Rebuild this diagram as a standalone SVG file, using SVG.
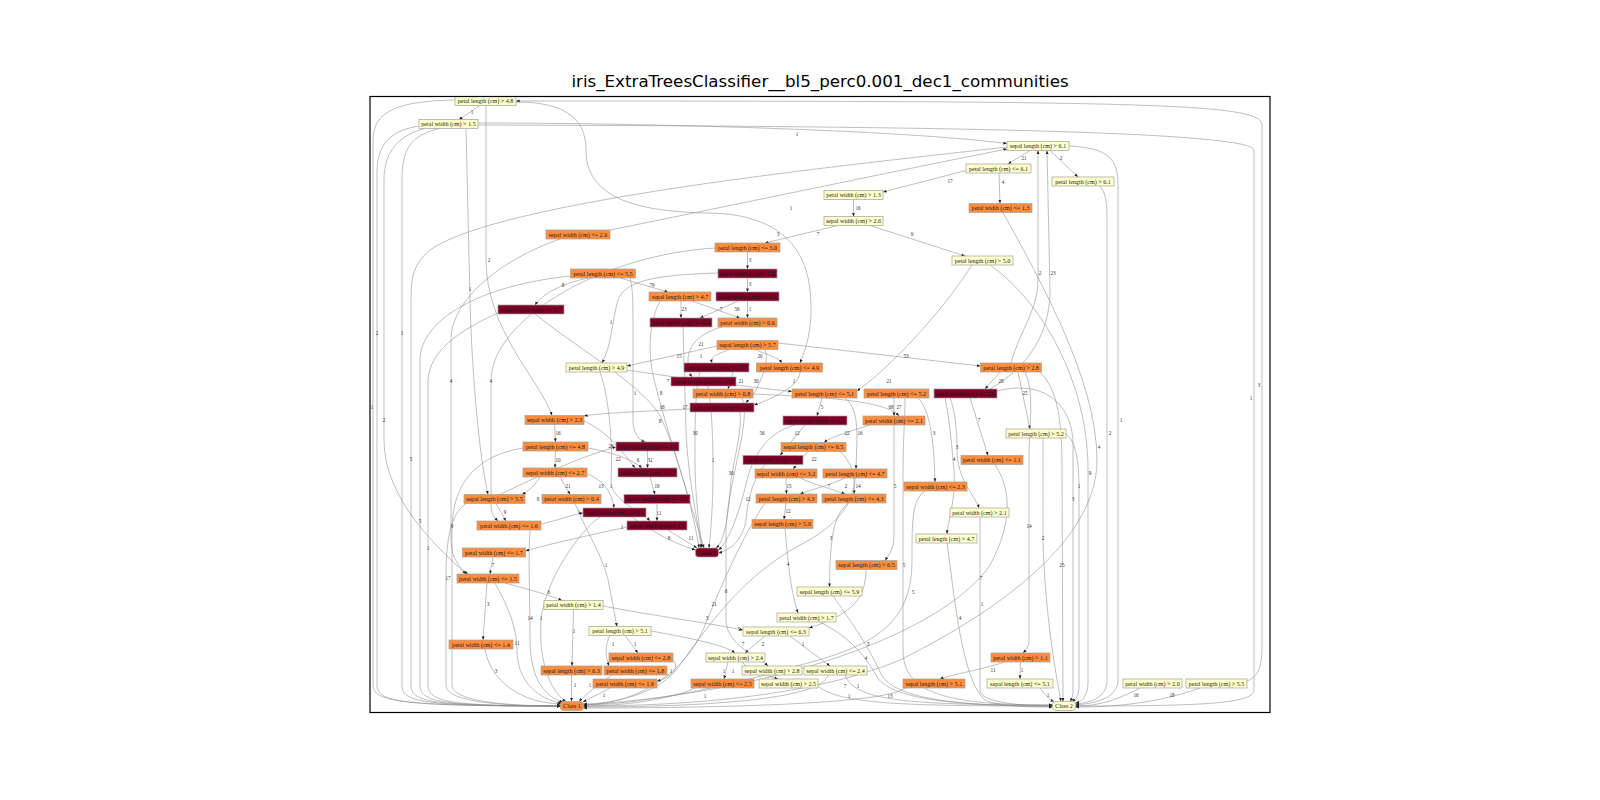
<svg xmlns="http://www.w3.org/2000/svg" width="1600" height="800" viewBox="0 0 1600 800">
<defs>
<marker id="a" viewBox="0 0 10 10" refX="10" refY="5" markerWidth="3.6" markerHeight="3.6" orient="auto" markerUnits="userSpaceOnUse"><path d="M0,1 L10,5 L0,9 z" fill="#222"/></marker>
<style>
.y{fill:#ffffcc}.o{fill:#fd8d3c}.d{fill:#800026}
.n rect{stroke:#a0a0a0;stroke-width:0.7}
.n text{font-family:"Liberation Serif",serif;font-size:6.1px;text-anchor:middle;fill:#1a1a1a}
#edges path{fill:none;stroke:#8a8a8a;stroke-width:0.55;marker-end:url(#a)}
#edges text{font-family:"Liberation Serif",serif;font-size:5.2px;text-anchor:middle;fill:#333}
</style>
</defs>
<rect width="1600" height="800" fill="#fff"/>
<text x="820" y="87" font-family="DejaVu Sans, sans-serif" font-size="16.7" text-anchor="middle" fill="#000">iris_ExtraTreesClassifier__bl5_perc0.001_dec1_communities</text>
<g id="edges">
<path d="M480,105.5 L459,119.5"/>
<path d="M478,123 C650,123 900,130 1007,143.5"/>
<path d="M1247,681 C1262,675 1262,660 1262,640 L1262,125 C1262,103 1150,101 516,101"/>
<path d="M478,125 C800,126 1250,128 1254,150 L1254,690 C1254,704 1200,706 1075.5,706"/>
<path d="M966,170.5 L883,192"/>
<path d="M1030,150.5 L1008,164"/>
<path d="M1050,150.5 L1078,177"/>
<path d="M999,173 L1000,203.5"/>
<path d="M1069,146 C1110,148 1118,160 1118,185 L1118,680 C1118,700 1090,704 1075.5,705"/>
<path d="M1100,186 C1107,195 1107,205 1107,230 L1107,680 C1107,698 1090,703 1075.5,704"/>
<path d="M1003,212.5 C1040,280 1097,380 1097,460 C1097,540 1000,610 900,660 C800,702 650,706 583.5,706"/>
<path d="M853.5,199.5 L853.5,216.5"/>
<path d="M610,230 C700,212 900,170 1007,149"/>
<path d="M838,225.5 L765,243"/>
<path d="M870,225.5 L965,256"/>
<path d="M747.5,252 L747.5,269"/>
<path d="M747.5,278 L747.5,292"/>
<path d="M747.5,301 L747.5,318"/>
<path d="M738,301 L700,318"/>
<path d="M692,301 L740,318"/>
<path d="M681,301 L681,318"/>
<path d="M620,278 L668,292"/>
<path d="M588,278 C570,282 545,290 535,305"/>
<path d="M718,273 C650,275 625,282 618,300 C612,320 612,345 602,363"/>
<path d="M717,346 L627,366"/>
<path d="M730,349.5 C720,353 710,356 712,363"/>
<path d="M755,349.5 C765,354 778,357 782,363"/>
<path d="M778,343 L980.5,366"/>
<path d="M722,327 C700,333 688,345 688,360 C688,370 690,374 692,377"/>
<path d="M627,370 C680,378 740,386 792,391.5"/>
<path d="M733,372 L728,389"/>
<path d="M765,349.5 C770,365 760,380 756,390 C752,398 748,400 746,403"/>
<path d="M800,372 C800,385 775,398 754,405"/>
<path d="M1000,372 L985,389"/>
<path d="M1018,372 L1030,429"/>
<path d="M972,265 C950,300 900,360 857,391"/>
<path d="M990,265 C1040,300 1088,380 1088,470 L1088,682 C1088,698 1080,702 1075.5,703"/>
<path d="M822,398 L817,416"/>
<path d="M894,398 L894,416"/>
<path d="M753,394 C820,397 885,400 899,416"/>
<path d="M970,398 L988,455.5"/>
<path d="M918,398 C930,410 934,440 935,482"/>
<path d="M950,398 C955,410 957,430 957,450 C957,480 975,495 979,508"/>
<path d="M945,398 C950,420 952,450 954,470 C956,500 948,520 947,534"/>
<path d="M1043,438 C1043,480 1043,510 1043,540 C1045,620 1058,685 1061,701.5"/>
<path d="M1025,372 C1035,395 1029,420 1029,460 L1029,640 C1029,648 1025,651 1023,653"/>
<path d="M1040,372 C1058,390 1062,420 1062,470 L1063,701.5"/>
<path d="M997,391 C1040,380 1070,400 1073,440 L1073,690 C1073,698 1071,700 1070,701.5"/>
<path d="M1066,434 C1075,440 1079,460 1079,486 L1079,686 C1079,698 1074,700 1072,701.5"/>
<path d="M1011,363 C1020,330 1038,310 1038,280 L1038,150.5"/>
<path d="M990,389 C1040,360 1050,320 1050,290 L1047,150.5"/>
<path d="M995,464.5 C1012,490 1012,525 990,565 C950,625 800,690 583.5,705"/>
<path d="M980,517 L980,690 C980,704 1030,706 1052.5,706"/>
<path d="M947,543 C955,600 962,680 985,700 C1000,707 1030,707 1052.5,707"/>
<path d="M925,491 C912,500 912,520 912,560 C912,620 880,645 800,665 C700,695 620,705 583.5,705"/>
<path d="M894,425 L894,535 C894,550 888,556 885,560.5"/>
<path d="M905,398 C905,420 903,440 903,475 L903,650 C903,695 950,705 1052.5,705"/>
<path d="M845,398 C855,405 857,420 857,440 L856,469"/>
<path d="M805,425 L780,455.5"/>
<path d="M870,425 C855,430 832,436 824,442.5"/>
<path d="M808,451.5 L793,469"/>
<path d="M786,478 L786.5,494"/>
<path d="M800,478 C815,485 835,490 845,494"/>
<path d="M845,478 C830,485 810,490 800,494"/>
<path d="M855,478 L854,494"/>
<path d="M786,503 L784,519.5"/>
<path d="M795,425 C770,432 755,450 747,480 C740,510 730,540 718.5,550"/>
<path d="M765,464.5 C752,480 748,500 746,520 C743,540 730,550 718.5,553"/>
<path d="M848,503 C835,515 830,530 829.5,587"/>
<path d="M785,528.5 C788,560 790,590 798,613"/>
<path d="M833,596 C850,620 868,645 880,672 C892,700 960,706 1052.5,706"/>
<path d="M820,622 C845,635 862,650 876,675 C888,700 960,706 1052.5,706"/>
<path d="M866,569.5 C866,600 850,615 809,628"/>
<path d="M840,451.5 C870,480 850,520 800,545 C745,575 712,620 680,665 C660,695 610,704 583.5,704"/>
<path d="M765,503 C740,540 720,590 707,620 C690,670 640,704 583.5,705"/>
<path d="M603,606 C650,615 720,625 743,630"/>
<path d="M651,631 C690,638 725,645 735,653"/>
<path d="M765,636 L745,653"/>
<path d="M790,636 L830,666"/>
<path d="M728,662 L724,679"/>
<path d="M742,662 C750,672 770,676 778,679"/>
<path d="M742,398 C752,420 728,480 726,530 L726,620 C726,645 760,658 768,666"/>
<path d="M673,660 C680,668 672,677 657,681"/>
<path d="M695,688 C670,700 620,706 583.5,706"/>
<path d="M610,688 L583,702"/>
<path d="M845,675 C855,700 900,705 1052.5,705"/>
<path d="M828,675 C822,700 700,707 583.5,707"/>
<path d="M818,686 C840,704 900,706 1052.5,706"/>
<path d="M905,688 C885,705 700,708 583.5,708"/>
<path d="M1005,662 C980,670 950,675 940,679"/>
<path d="M1020.5,662 L1020,679"/>
<path d="M1040,688 C1045,695 1050,700 1054,701.5"/>
<path d="M1140,688 C1110,704 1090,706 1075.5,706"/>
<path d="M1200,688 C1150,706 1100,707 1075.5,707"/>
<path d="M625,635.5 L638,653"/>
<path d="M610,635.5 C605,645 605,655 609,666"/>
<path d="M573.5,609.5 L572,666"/>
<path d="M571.5,675 L571.5,701.5"/>
<path d="M612,675 C598,685 585,695 579,701.5"/>
<path d="M575,503.5 C590,540 606,560 610,590 L617,626.5"/>
<path d="M505,583 C530,590 550,595 562,600.5"/>
<path d="M487,583 L483,640"/>
<path d="M495,583 C510,610 517,630 517,650 C517,690 550,702 562,703"/>
<path d="M485,649 C490,680 520,703 561,704"/>
<path d="M493,557 L490,574"/>
<path d="M530,530 C528,560 530,600 530,640 C530,690 555,700 563,702"/>
<path d="M600,517 C580,530 545,580 541,620 C538,670 555,695 566,701.5"/>
<path d="M466,503.5 C450,515 446,540 446,580 L446,685 C446,702 500,706 560.5,706"/>
<path d="M523,448 C480,455 452,480 452,530 L452,685 C452,702 510,706 560.5,706"/>
<path d="M496,503.5 L506,521"/>
<path d="M540,477 C535,485 530,490 522,494.5"/>
<path d="M560,477 L570,494.5"/>
<path d="M587,474 C600,478 612,490 614,508"/>
<path d="M600,372 C610,400 613,450 611,480 C610,500 640,510 650,521"/>
<path d="M541,524 C560,520 570,515 583,513"/>
<path d="M627,527 C590,535 545,545 525.5,551"/>
<path d="M668,530 L697,548"/>
<path d="M632,517 C650,530 670,542 695.5,550"/>
<path d="M650,477 L655,494.5"/>
<path d="M657,503.5 L657,521"/>
<path d="M647.5,451 L647.5,468"/>
<path d="M588,448 C610,452 630,458 642,468"/>
<path d="M584,421 C605,430 622,450 635,468"/>
<path d="M500,494.5 C540,475 585,455 616,447"/>
<path d="M554.5,424.5 L555.5,442"/>
<path d="M555.5,451 L555,468"/>
<path d="M690,409 C650,411 600,413 584,416"/>
<path d="M740,412 C742,430 735,455 731,480 C728,520 724,542 716,548"/>
<path d="M700,372 C695,390 695,420 695,460 C695,500 700,530 702,548"/>
<path d="M708,386 C712,410 713,440 713,470 C713,510 710,540 709,548"/>
<path d="M683,327 C684,360 685,400 686,430 C688,480 698,520 701,548"/>
<path d="M535,314 C580,350 650,390 662,420 C680,460 695,520 699,548"/>
<path d="M660,301 C650,320 648,345 652,370 C660,410 690,500 704,548"/>
<path d="M630,278 C633,290 633,300 633,330 L633,420 C633,435 640,440 645,442"/>
<path d="M516,102 C560,102 586,115 586,150 C586,195 630,212 710,213 C770,214 805,240 810,290 C814,330 805,350 800,363"/>
<path d="M486,105.5 L486,260 C486,330 540,380 552,415.5"/>
<path d="M455,100 C400,101 373,110 373,140 L373,685 C373,702 400,706 560.5,706"/>
<path d="M419,126 C395,130 378,140 377,170 L377,685 C377,702 400,706 560.5,706"/>
<path d="M425,128.5 C400,135 384,150 384,180 L384,440 C384,500 440,550 466,574"/>
<path d="M440,128.5 C410,135 402,150 402,180 L402,685 C402,702 420,706 560.5,706"/>
<path d="M1007,147 C850,165 500,200 430,250 C412,265 411,280 411,300 L411,685 C411,702 430,706 560.5,706"/>
<path d="M571,276 C480,285 420,320 420,360 L420,685 C420,702 440,706 560.5,706"/>
<path d="M500,312 C460,330 430,350 428,380 L428,685 C428,702 450,706 560.5,706"/>
<path d="M560,239 C500,260 451,300 451,340 L451,540 C451,560 462,570 468,574"/>
<path d="M715,248 C600,255 491,320 491,381 L491,505 C491,515 495,518 498,521"/>
<path d="M466,128.5 L470,300 C472,380 480,460 488,494.5"/>
<text x="472" y="113.8">1</text><text x="797" y="135.8">1</text><text x="1259" y="386.8">3</text><text x="1251" y="399.8">1</text>
<text x="950" y="182.8">17</text><text x="1024" y="159.8">21</text><text x="1061" y="159.8">2</text><text x="1003" y="183.8">4</text>
<text x="1121" y="421.8">1</text><text x="1110" y="434.8">2</text><text x="1099" y="448.8">4</text><text x="858" y="209.8">16</text>
<text x="791" y="209.8">1</text><text x="818" y="235.8">7</text><text x="912" y="235.8">9</text><text x="750" y="261.8">3</text>
<text x="750" y="285.8">3</text><text x="750" y="310.8">1</text><text x="721" y="310.8">7</text><text x="737" y="310.8">56</text>
<text x="684" y="310.8">23</text><text x="652" y="286.8">79</text><text x="563" y="286.8">8</text><text x="611" y="323.8">1</text>
<text x="679" y="357.8">15</text><text x="701" y="357.8">1</text><text x="760" y="357.8">20</text><text x="906" y="357.8">53</text>
<text x="701" y="345.8">21</text><text x="668" y="382.8">7</text><text x="741" y="382.8">21</text><text x="756" y="382.8">30</text>
<text x="794" y="382.8">1</text><text x="1001" y="382.8">28</text><text x="1025" y="394.8">25</text><text x="889" y="382.8">21</text>
<text x="1090" y="474.8">9</text><text x="822" y="408.8">5</text><text x="891" y="408.8">68</text><text x="899" y="408.8">27</text>
<text x="979" y="421.8">7</text><text x="934" y="434.8">3</text><text x="957" y="448.8">3</text><text x="954" y="460.8">4</text>
<text x="1043" y="539.8">2</text><text x="1029" y="527.8">14</text><text x="1062" y="566.8">25</text><text x="1073" y="500.8">3</text>
<text x="1079" y="487.8">1</text><text x="1040" y="274.8">2</text><text x="1053" y="274.8">23</text><text x="981" y="579.8">7</text>
<text x="982" y="605.8">1</text><text x="960" y="619.8">4</text><text x="913" y="593.8">5</text><text x="895" y="487.8">5</text>
<text x="904" y="566.8">5</text><text x="860" y="434.8">16</text><text x="797" y="434.8">12</text><text x="847" y="434.8">22</text>
<text x="814" y="460.8">22</text><text x="789" y="487.8">15</text><text x="829" y="487.8">7</text><text x="846" y="487.8">2</text>
<text x="858" y="487.8">14</text><text x="788" y="512.8">12</text><text x="762" y="434.8">56</text><text x="748" y="500.8">12</text>
<text x="831" y="539.8">3</text><text x="788" y="565.8">4</text><text x="868" y="645.8">3</text><text x="866" y="659.8">4</text>
<text x="714" y="605.8">21</text><text x="707" y="619.8">3</text><text x="739" y="630.8">5</text><text x="743" y="645.8">7</text>
<text x="763" y="645.8">2</text><text x="803" y="645.8">1</text><text x="724" y="672.8">1</text><text x="733" y="672.8">1</text>
<text x="726" y="592.8">6</text><text x="671" y="672.8">1</text><text x="705" y="697.8">1</text><text x="604" y="696.8">1</text>
<text x="858" y="687.8">1</text><text x="845" y="687.8">7</text><text x="849" y="697.8">1</text><text x="890" y="697.8">13</text>
<text x="993" y="671.8">11</text><text x="1022" y="671.8">1</text><text x="1048" y="696.8">1</text><text x="1136" y="696.8">16</text>
<text x="1172" y="696.8">18</text><text x="635" y="645.8">1</text><text x="613" y="645.8">1</text><text x="574" y="632.8">1</text>
<text x="575" y="686.8">1</text><text x="590" y="686.8">1</text><text x="606" y="566.8">1</text><text x="549" y="593.8">6</text>
<text x="488" y="605.8">3</text><text x="517" y="644.8">11</text><text x="496" y="672.8">3</text><text x="493" y="566.8">7</text>
<text x="530" y="619.8">14</text><text x="541" y="619.8">1</text><text x="448" y="579.8">17</text><text x="452" y="527.8">9</text>
<text x="505" y="513.8">9</text><text x="538" y="500.8">8</text><text x="568" y="487.8">21</text><text x="601" y="487.8">13</text>
<text x="611" y="487.8">1</text><text x="579" y="513.8">1</text><text x="622" y="528.8">1</text><text x="691" y="539.8">11</text>
<text x="669" y="539.8">8</text><text x="657" y="487.8">19</text><text x="659" y="514.8">11</text><text x="650" y="461.8">32</text>
<text x="638" y="461.8">6</text><text x="618" y="460.8">22</text><text x="611" y="447.8">28</text><text x="558" y="434.8">16</text>
<text x="558" y="461.8">10</text><text x="660" y="422.8">8</text><text x="731" y="474.8">30</text><text x="695" y="434.8">30</text>
<text x="713" y="461.8">1</text><text x="685" y="408.8">17</text><text x="662" y="408.8">18</text><text x="661" y="394.8">8</text>
<text x="635" y="394.8">1</text><text x="778" y="235.8">3</text><text x="489" y="261.8">2</text><text x="372" y="408.8">1</text>
<text x="377" y="334.8">2</text><text x="384" y="421.8">2</text><text x="402" y="334.8">1</text><text x="411" y="460.8">5</text>
<text x="420" y="522.8">5</text><text x="428" y="549.8">1</text><text x="451" y="382.8">4</text><text x="491" y="382.8">4</text>
<text x="470" y="290.8">1</text>
</g>
<g id="n1" class="n"><rect class="y" x="455" y="96.5" width="61" height="9"/><text x="485.5" y="103.1">petal length (cm) &gt; 4.8</text></g>
<g id="n2" class="n"><rect class="y" x="419" y="119.5" width="59" height="9"/><text x="448.5" y="126.1">petal width (cm) &gt; 1.5</text></g>
<g id="n3" class="n"><rect class="y" x="1007" y="141.5" width="62" height="9"/><text x="1038" y="148.1">sepal length (cm) &gt; 6.1</text></g>
<g id="n4" class="n"><rect class="y" x="966" y="164" width="65" height="9"/><text x="998.5" y="170.6">petal length (cm) &lt;= 6.1</text></g>
<g id="n5" class="n"><rect class="y" x="1052" y="177" width="62" height="9"/><text x="1083" y="183.6">petal length (cm) &gt; 6.1</text></g>
<g id="n6" class="n"><rect class="y" x="824" y="190.5" width="59" height="9"/><text x="853.5" y="197.1">petal width (cm) &gt; 1.3</text></g>
<g id="n7" class="n"><rect class="o" x="969" y="203.5" width="63" height="9"/><text x="1000.5" y="210.1">petal width (cm) &lt;= 1.3</text></g>
<g id="n8" class="n"><rect class="y" x="824" y="216.5" width="59" height="9"/><text x="853.5" y="223.1">sepal width (cm) &gt; 2.6</text></g>
<g id="n9" class="n"><rect class="o" x="546" y="230" width="64" height="9"/><text x="578" y="236.6">sepal width (cm) &lt;= 2.6</text></g>
<g id="n10" class="n"><rect class="o" x="715" y="243" width="65" height="9"/><text x="747.5" y="249.6">petal length (cm) &lt;= 5.0</text></g>
<g id="n11" class="n"><rect class="y" x="952" y="256" width="61" height="9"/><text x="982.5" y="262.6">petal length (cm) &gt; 5.0</text></g>
<g id="n12" class="n"><rect class="d" x="718" y="269" width="59" height="9"/><text x="747.5" y="275.6">petal width (cm) &gt; 1.6</text></g>
<g id="n13" class="n"><rect class="o" x="570.5" y="269" width="65" height="9"/><text x="603" y="275.6">petal length (cm) &lt;= 5.5</text></g>
<g id="n14" class="n"><rect class="o" x="649" y="292" width="62" height="9"/><text x="680" y="298.6">sepal length (cm) &gt; 4.7</text></g>
<g id="n15" class="n"><rect class="d" x="716" y="292" width="63" height="9"/><text x="747.5" y="298.6">sepal width (cm) &lt;= 3.1</text></g>
<g id="n16" class="n"><rect class="d" x="498" y="305" width="66" height="9"/><text x="531" y="311.6">sepal length (cm) &lt;= 4.7</text></g>
<g id="n17" class="n"><rect class="d" x="650" y="318" width="62" height="9"/><text x="681" y="324.6">petal width (cm) &lt;= 0.6</text></g>
<g id="n18" class="n"><rect class="o" x="718" y="318" width="59" height="9"/><text x="747.5" y="324.6">petal width (cm) &gt; 0.6</text></g>
<g id="n19" class="n"><rect class="o" x="717" y="340.5" width="61" height="9"/><text x="747.5" y="347.1">sepal length (cm) &gt; 5.7</text></g>
<g id="n20" class="n"><rect class="y" x="566" y="363" width="61" height="9"/><text x="596.5" y="369.6">petal length (cm) &gt; 4.9</text></g>
<g id="n21" class="n"><rect class="d" x="684" y="363" width="65" height="9"/><text x="716.5" y="369.6">sepal length (cm) &lt;= 5.7</text></g>
<g id="n22" class="n"><rect class="o" x="756.5" y="363" width="66" height="9"/><text x="789.5" y="369.6">petal length (cm) &lt;= 4.9</text></g>
<g id="n23" class="n"><rect class="o" x="980.5" y="363" width="61" height="9"/><text x="1011" y="369.6">petal length (cm) &gt; 2.8</text></g>
<g id="n24" class="n"><rect class="d" x="671" y="377" width="65" height="9"/><text x="703.5" y="383.6">petal length (cm) &lt;= 2.9</text></g>
<g id="n25" class="n"><rect class="o" x="693" y="389" width="60" height="9"/><text x="723" y="395.6">petal width (cm) &gt; 0.8</text></g>
<g id="n26" class="n"><rect class="o" x="792" y="389" width="65" height="9"/><text x="824.5" y="395.6">petal length (cm) &lt;= 5.1</text></g>
<g id="n27" class="n"><rect class="o" x="864" y="389" width="65" height="9"/><text x="896.5" y="395.6">petal length (cm) &lt;= 5.2</text></g>
<g id="n28" class="n"><rect class="d" x="934" y="389" width="63" height="9"/><text x="965.5" y="395.6">petal width (cm) &lt;= 2.0</text></g>
<g id="n29" class="n"><rect class="d" x="690" y="403" width="64" height="9"/><text x="722" y="409.6">petal width (cm) &lt;= 0.8</text></g>
<g id="n30" class="n"><rect class="o" x="525" y="415.5" width="59" height="9"/><text x="554.5" y="422.1">sepal width (cm) &gt; 2.3</text></g>
<g id="n31" class="n"><rect class="d" x="783" y="416" width="64" height="9"/><text x="815" y="422.6">sepal length (cm) &lt;= 6.1</text></g>
<g id="n32" class="n"><rect class="o" x="863" y="416" width="62" height="9"/><text x="894" y="422.6">petal width (cm) &lt;= 2.1</text></g>
<g id="n33" class="n"><rect class="y" x="1006" y="429" width="60" height="9"/><text x="1036" y="435.6">petal length (cm) &gt; 5.2</text></g>
<g id="n34" class="n"><rect class="o" x="523" y="442" width="65" height="9"/><text x="555.5" y="448.6">petal length (cm) &lt;= 4.8</text></g>
<g id="n35" class="n"><rect class="d" x="616" y="442" width="63" height="9"/><text x="647.5" y="448.6">sepal width (cm) &lt;= 3.4</text></g>
<g id="n36" class="n"><rect class="o" x="781" y="442.5" width="65" height="9"/><text x="813.5" y="449.1">sepal length (cm) &lt;= 6.5</text></g>
<g id="n37" class="n"><rect class="d" x="743" y="455.5" width="60" height="9"/><text x="773" y="462.1">sepal width (cm) &gt; 3.4</text></g>
<g id="n38" class="n"><rect class="o" x="961" y="455.5" width="62" height="9"/><text x="992" y="462.1">petal width (cm) &lt;= 1.1</text></g>
<g id="n39" class="n"><rect class="o" x="523" y="468" width="64" height="9"/><text x="555" y="474.6">sepal width (cm) &lt;= 2.7</text></g>
<g id="n40" class="n"><rect class="d" x="618" y="468" width="59" height="9"/><text x="647.5" y="474.6">sepal width (cm) &gt; 2.7</text></g>
<g id="n41" class="n"><rect class="o" x="755" y="469" width="62" height="9"/><text x="786" y="475.6">sepal width (cm) &lt;= 3.2</text></g>
<g id="n42" class="n"><rect class="o" x="823" y="469" width="64" height="9"/><text x="855" y="475.6">petal length (cm) &lt;= 4.7</text></g>
<g id="n43" class="n"><rect class="o" x="904" y="482" width="63" height="9"/><text x="935.5" y="488.6">sepal width (cm) &lt;= 2.3</text></g>
<g id="n44" class="n"><rect class="o" x="464" y="494.5" width="61" height="9"/><text x="494.5" y="501.1">sepal length (cm) &gt; 5.5</text></g>
<g id="n45" class="n"><rect class="o" x="542" y="494.5" width="59" height="9"/><text x="571.5" y="501.1">petal width (cm) &gt; 0.4</text></g>
<g id="n46" class="n"><rect class="d" x="624" y="494.5" width="66" height="9"/><text x="657" y="501.1">sepal length (cm) &lt;= 5.5</text></g>
<g id="n47" class="n"><rect class="o" x="756" y="494" width="61" height="9"/><text x="786.5" y="500.6">petal length (cm) &gt; 4.3</text></g>
<g id="n48" class="n"><rect class="o" x="822" y="494" width="64" height="9"/><text x="854" y="500.6">petal length (cm) &lt;= 4.3</text></g>
<g id="n49" class="n"><rect class="d" x="583" y="508" width="63" height="9"/><text x="614.5" y="514.6">petal width (cm) &lt;= 0.4</text></g>
<g id="n50" class="n"><rect class="y" x="950" y="508" width="59" height="9"/><text x="979.5" y="514.6">petal width (cm) &gt; 2.1</text></g>
<g id="n51" class="n"><rect class="o" x="752" y="519.5" width="61" height="9"/><text x="782.5" y="526.1">sepal length (cm) &gt; 5.9</text></g>
<g id="n52" class="n"><rect class="o" x="477" y="521" width="64" height="9"/><text x="509" y="527.6">petal width (cm) &lt;= 1.6</text></g>
<g id="n53" class="n"><rect class="d" x="627" y="521" width="60" height="9"/><text x="657" y="527.6">sepal width (cm) &gt; 3.1</text></g>
<g id="n54" class="n"><rect class="y" x="916" y="534" width="61" height="9"/><text x="946.5" y="540.6">petal length (cm) &gt; 4.7</text></g>
<g id="n55" class="n"><rect class="o" x="462.5" y="548" width="63" height="9"/><text x="494" y="554.6">petal width (cm) &lt;= 1.7</text></g>
<g id="n56" class="n"><rect class="d" x="695.5" y="548" width="23" height="9" rx="3"/><text x="707" y="554.6">Class 0</text></g>
<g id="n57" class="n"><rect class="o" x="836" y="560.5" width="61" height="9"/><text x="866.5" y="567.1">sepal length (cm) &gt; 6.5</text></g>
<g id="n58" class="n"><rect class="o" x="457" y="574" width="62" height="9"/><text x="488" y="580.6">petal width (cm) &lt;= 1.5</text></g>
<g id="n59" class="n"><rect class="y" x="797" y="587" width="65" height="9"/><text x="829.5" y="593.6">sepal length (cm) &lt;= 5.9</text></g>
<g id="n60" class="n"><rect class="y" x="544" y="600.5" width="59" height="9"/><text x="573.5" y="607.1">petal width (cm) &gt; 1.4</text></g>
<g id="n61" class="n"><rect class="y" x="777" y="613" width="59" height="9"/><text x="806.5" y="619.6">petal width (cm) &gt; 1.7</text></g>
<g id="n62" class="n"><rect class="y" x="589" y="626.5" width="62" height="9"/><text x="620" y="633.1">petal length (cm) &gt; 5.1</text></g>
<g id="n63" class="n"><rect class="y" x="743" y="627" width="66" height="9"/><text x="776" y="633.6">sepal length (cm) &lt;= 6.3</text></g>
<g id="n64" class="n"><rect class="o" x="449" y="640" width="64" height="9"/><text x="481" y="646.6">petal width (cm) &lt;= 1.4</text></g>
<g id="n65" class="n"><rect class="o" x="609" y="653" width="64" height="9"/><text x="641" y="659.6">sepal width (cm) &lt;= 2.8</text></g>
<g id="n66" class="n"><rect class="y" x="706" y="653" width="59" height="9"/><text x="735.5" y="659.6">sepal width (cm) &gt; 2.4</text></g>
<g id="n67" class="n"><rect class="o" x="991" y="653" width="59" height="9"/><text x="1020.5" y="659.6">petal width (cm) &gt; 1.1</text></g>
<g id="n68" class="n"><rect class="o" x="541" y="666" width="61" height="9"/><text x="571.5" y="672.6">sepal length (cm) &gt; 6.3</text></g>
<g id="n69" class="n"><rect class="o" x="604" y="666" width="63" height="9"/><text x="635.5" y="672.6">petal width (cm) &lt;= 1.8</text></g>
<g id="n70" class="n"><rect class="y" x="742" y="666" width="60" height="9"/><text x="772" y="672.6">sepal width (cm) &gt; 2.8</text></g>
<g id="n71" class="n"><rect class="y" x="804" y="666" width="63" height="9"/><text x="835.5" y="672.6">sepal width (cm) &lt;= 2.4</text></g>
<g id="n72" class="n"><rect class="o" x="593" y="679" width="64" height="9"/><text x="625" y="685.6">petal width (cm) &lt;= 1.9</text></g>
<g id="n73" class="n"><rect class="o" x="691" y="679" width="63" height="9"/><text x="722.5" y="685.6">sepal width (cm) &lt;= 2.5</text></g>
<g id="n74" class="n"><rect class="y" x="759" y="679" width="59" height="9"/><text x="788.5" y="685.6">sepal width (cm) &gt; 2.5</text></g>
<g id="n75" class="n"><rect class="o" x="903" y="679" width="62" height="9"/><text x="934" y="685.6">sepal length (cm) &gt; 5.1</text></g>
<g id="n76" class="n"><rect class="y" x="987" y="679" width="66" height="9"/><text x="1020" y="685.6">sepal length (cm) &lt;= 5.1</text></g>
<g id="n77" class="n"><rect class="y" x="1123" y="679" width="59" height="9"/><text x="1152.5" y="685.6">petal width (cm) &gt; 2.0</text></g>
<g id="n78" class="n"><rect class="y" x="1186" y="679" width="61" height="9"/><text x="1216.5" y="685.6">petal length (cm) &gt; 5.5</text></g>
<g id="n79" class="n"><rect class="o" x="560.5" y="701.5" width="23" height="9" rx="3"/><text x="572" y="708.1">Class 1</text></g>
<g id="n80" class="n"><rect class="y" x="1052.5" y="701.5" width="23" height="9" rx="3"/><text x="1064" y="708.1">Class 2</text></g>
<rect x="370" y="96.5" width="900" height="616" fill="none" stroke="#000" stroke-width="1.2"/>
</svg>
